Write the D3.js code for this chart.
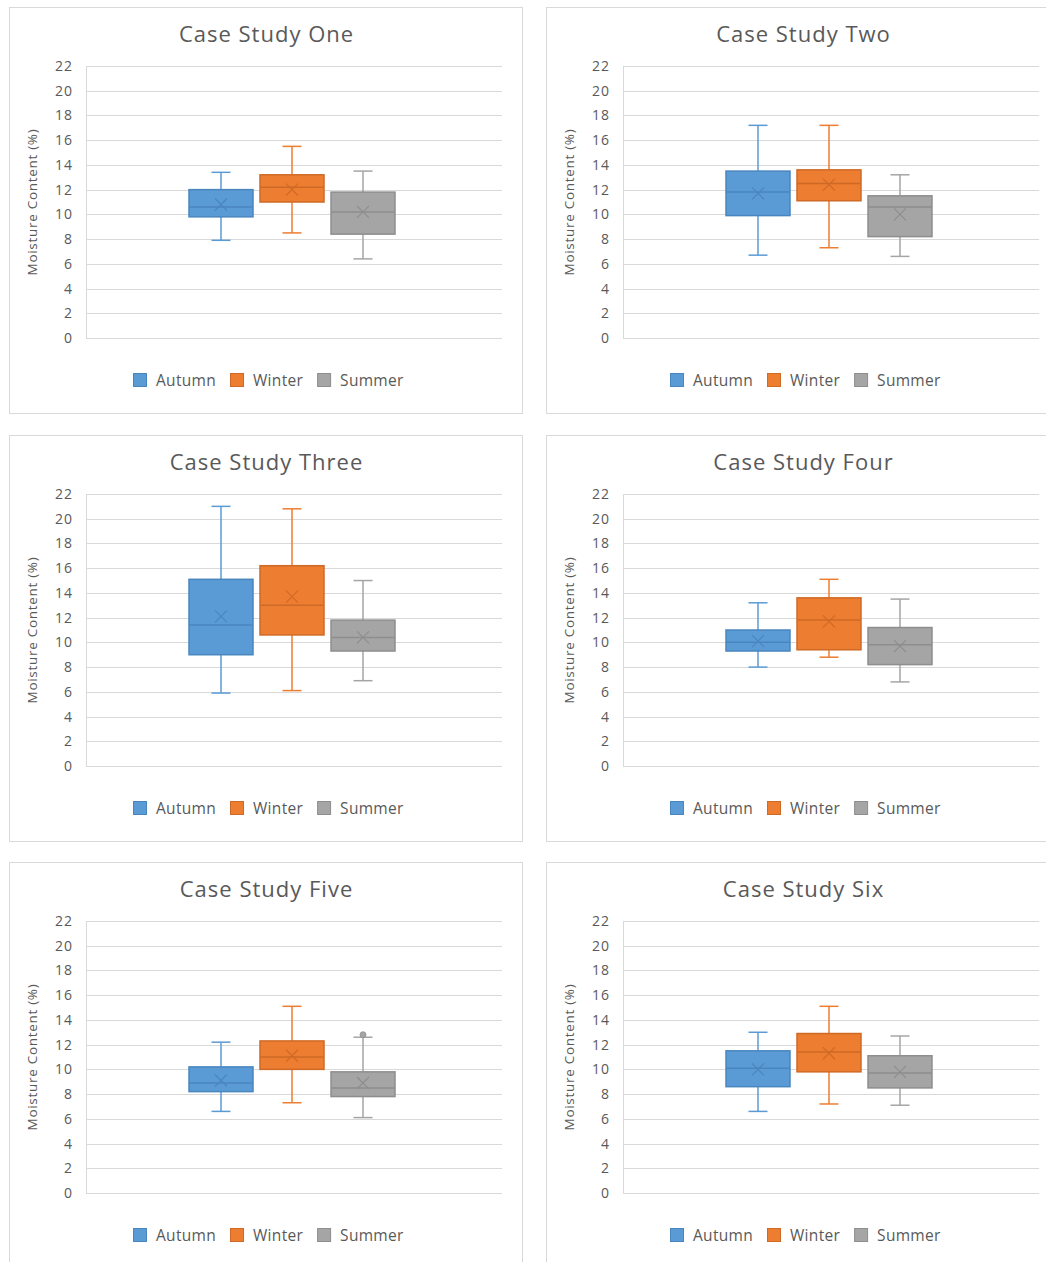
<!DOCTYPE html>
<html>
<head>
<meta charset="utf-8">
<script src="https://cdn.jsdelivr.net/npm/d3@7"></script>
<style>
  html, body { margin: 0; padding: 0; background: #ffffff; }
  svg { display: block; }
  text { font-family: "Open Sans", "DejaVu Sans", sans-serif; fill: #595959; }
</style>
</head>
<body>
<svg id="chart" width="1046" height="1262"></svg>
<script>
// ---------------- data ----------------
const caseStudies = ["Case Study One", "Case Study Two", "Case Study Three",
                     "Case Study Four", "Case Study Five", "Case Study Six"];
const seasons = ["Autumn", "Winter", "Summer"];
const seasonColors = ["#5B9BD5", "#ED7D31", "#A5A5A5"];
const seasonStroke = ["#4A86BE", "#CF6A26", "#8E8E8E"];
const yTicks = [0, 2, 4, 6, 8, 10, 12, 14, 16, 18, 20, 22];
const yLabel = "Moisture Content (%)";

// per case study: [Autumn, Winter, Summer]
const whiskerMax = [
  [13.4, 15.5, 13.5],
  [17.2, 17.2, 13.2],
  [21.0, 20.8, 15.0],
  [13.2, 15.1, 13.5],
  [12.2, 15.1, 12.6],
  [13.0, 15.1, 12.7]
];
const q3 = [
  [12.0, 13.2, 11.8],
  [13.5, 13.6, 11.5],
  [15.1, 16.2, 11.8],
  [11.0, 13.6, 11.2],
  [10.2, 12.3, 9.8],
  [11.5, 12.9, 11.1]
];
const median = [
  [10.6, 12.2, 10.2],
  [11.8, 12.5, 10.6],
  [11.4, 13.0, 10.4],
  [10.0, 11.8, 9.8],
  [8.9, 11.0, 8.5],
  [10.1, 11.4, 9.7]
];
const mean = [
  [10.8, 12.0, 10.2],
  [11.7, 12.4, 10.0],
  [12.1, 13.7, 10.4],
  [10.1, 11.7, 9.7],
  [9.1, 11.1, 8.9],
  [10.0, 11.3, 9.8]
];
const q1 = [
  [9.8, 11.0, 8.4],
  [9.9, 11.1, 8.2],
  [9.0, 10.6, 9.3],
  [9.3, 9.4, 8.2],
  [8.2, 10.0, 7.8],
  [8.6, 9.8, 8.5]
];
const whiskerMin = [
  [7.9, 8.5, 6.4],
  [6.7, 7.3, 6.6],
  [5.9, 6.1, 6.9],
  [8.0, 8.8, 6.8],
  [6.6, 7.3, 6.1],
  [6.6, 7.2, 7.1]
];
// outliers: [caseIndex, seasonIndex, value]
const outliers = [
  [4, 2, 12.8]
];

// ---------------- layout ----------------
const svg = d3.select("#chart");
const colX = [9, 546];
const rowY = [7, 435, 862];
const panelW = 513, panelH = 406;
const plotL = 77, plotT = 59, plotW = 416, plotH = 272;
const groupCenter = 206, groupHalf = 103;

caseStudies.forEach((name, ci) => {
  const px = colX[ci % 2], py = rowY[Math.floor(ci / 2)];
  const g = svg.append("g").attr("transform", `translate(${px},${py})`);

  g.append("rect")
    .attr("x", 0.5).attr("y", 0.5)
    .attr("width", panelW).attr("height", panelH)
    .attr("fill", "#ffffff").attr("stroke", "#d9d9d9").attr("stroke-width", 1);

  g.append("text")
    .attr("x", panelW / 2 + 1).attr("y", 35)
    .attr("text-anchor", "middle")
    .attr("font-size", "22px")
    .attr("letter-spacing", "1px")
    .text(name);

  const y = d3.scaleLinear().domain([0, 22]).range([plotT + plotH, plotT]);
  const x = d3.scaleBand().domain(seasons)
    .range([plotL + groupCenter - groupHalf, plotL + groupCenter + groupHalf])
    .paddingInner(0.0986).paddingOuter(0);

  // gridlines
  g.append("g").selectAll("line").data(yTicks).join("line")
    .attr("x1", plotL).attr("x2", plotL + plotW)
    .attr("y1", d => Math.round(y(d)) + 0.5).attr("y2", d => Math.round(y(d)) + 0.5)
    .attr("stroke", "#d9d9d9").attr("stroke-width", 1);
  g.append("line")
    .attr("x1", plotL + 0.5).attr("x2", plotL + 0.5)
    .attr("y1", y(22)).attr("y2", y(0) + 0.5)
    .attr("stroke", "#d9d9d9").attr("stroke-width", 1);

  // y axis labels via d3 axis
  const yAxis = d3.axisLeft(y).tickValues(yTicks).tickSize(0).tickPadding(13);
  const ag = g.append("g").attr("transform", `translate(${plotL},0)`).call(yAxis);
  ag.select(".domain").remove();
  ag.selectAll("text")
    .attr("font-size", "14px")
    .attr("letter-spacing", "1px")
    .attr("fill", "#595959")
    .style("font-family", "'Open Sans', sans-serif");

  g.append("text")
    .attr("transform", `translate(23,${plotT + plotH / 2}) rotate(-90)`)
    .attr("text-anchor", "middle")
    .attr("dominant-baseline", "central")
    .attr("font-size", "13.5px")
    .attr("letter-spacing", "0.7px")
    .text(yLabel);

  // boxes
  seasons.forEach((s, si) => {
    const cx = x(s) + x.bandwidth() / 2;
    const bw = x.bandwidth();
    const cap = 19;
    const bg = g.append("g");
    // whiskers
    bg.append("line")
      .attr("x1", cx).attr("x2", cx)
      .attr("y1", y(whiskerMax[ci][si])).attr("y2", y(q3[ci][si]))
      .attr("stroke", seasonColors[si]).attr("stroke-width", 1.5);
    bg.append("line")
      .attr("x1", cx).attr("x2", cx)
      .attr("y1", y(q1[ci][si])).attr("y2", y(whiskerMin[ci][si]))
      .attr("stroke", seasonColors[si]).attr("stroke-width", 1.5);
    [whiskerMax[ci][si], whiskerMin[ci][si]].forEach(v => {
      bg.append("line")
        .attr("x1", cx - cap / 2).attr("x2", cx + cap / 2)
        .attr("y1", y(v)).attr("y2", y(v))
        .attr("stroke", seasonColors[si]).attr("stroke-width", 1.5);
    });
    // box
    bg.append("rect")
      .attr("x", x(s)).attr("y", y(q3[ci][si]))
      .attr("width", bw).attr("height", y(q1[ci][si]) - y(q3[ci][si]))
      .attr("fill", seasonColors[si])
      .attr("stroke", seasonStroke[si]).attr("stroke-width", 1.5);
    // median
    bg.append("line")
      .attr("x1", x(s)).attr("x2", x(s) + bw)
      .attr("y1", y(median[ci][si])).attr("y2", y(median[ci][si]))
      .attr("stroke", seasonStroke[si]).attr("stroke-width", 1.5);
    // mean marker
    const my = y(mean[ci][si]), m = 6;
    bg.append("path")
      .attr("d", `M${cx - m},${my - m}L${cx + m},${my + m}M${cx - m},${my + m}L${cx + m},${my - m}`)
      .attr("stroke", seasonStroke[si]).attr("stroke-width", 1.2).attr("fill", "none");
  });

  outliers.filter(o => o[0] === ci).forEach(o => {
    const s = seasons[o[1]];
    g.append("circle")
      .attr("cx", x(s) + x.bandwidth() / 2).attr("cy", y(o[2]))
      .attr("r", 3)
      .attr("fill", seasonColors[o[1]]).attr("stroke", seasonStroke[o[1]]).attr("stroke-width", 0.8);
  });

  // legend
  const lg = g.append("g");
  let lx = 0;
  seasons.forEach((s, si) => {
    const it = lg.append("g").attr("transform", `translate(${lx},0)`);
    it.append("rect")
      .attr("x", 0.5).attr("y", 366.5).attr("width", 13).attr("height", 13)
      .attr("fill", seasonColors[si]).attr("stroke", seasonStroke[si]).attr("stroke-width", 1);
    const t = it.append("text")
      .attr("x", 23).attr("y", 373)
      .attr("dominant-baseline", "central")
      .attr("font-size", "15.5px")
      .attr("letter-spacing", "0.3px")
      .text(s);
    const tw = t.node().getComputedTextLength();
    lx += 23 + tw + 14;
  });
  const totalW = lx - 14;
  lg.attr("transform", `translate(${Math.round(panelW / 2 + 3 - totalW / 2)},0)`);
});
</script>
</body>
</html>
